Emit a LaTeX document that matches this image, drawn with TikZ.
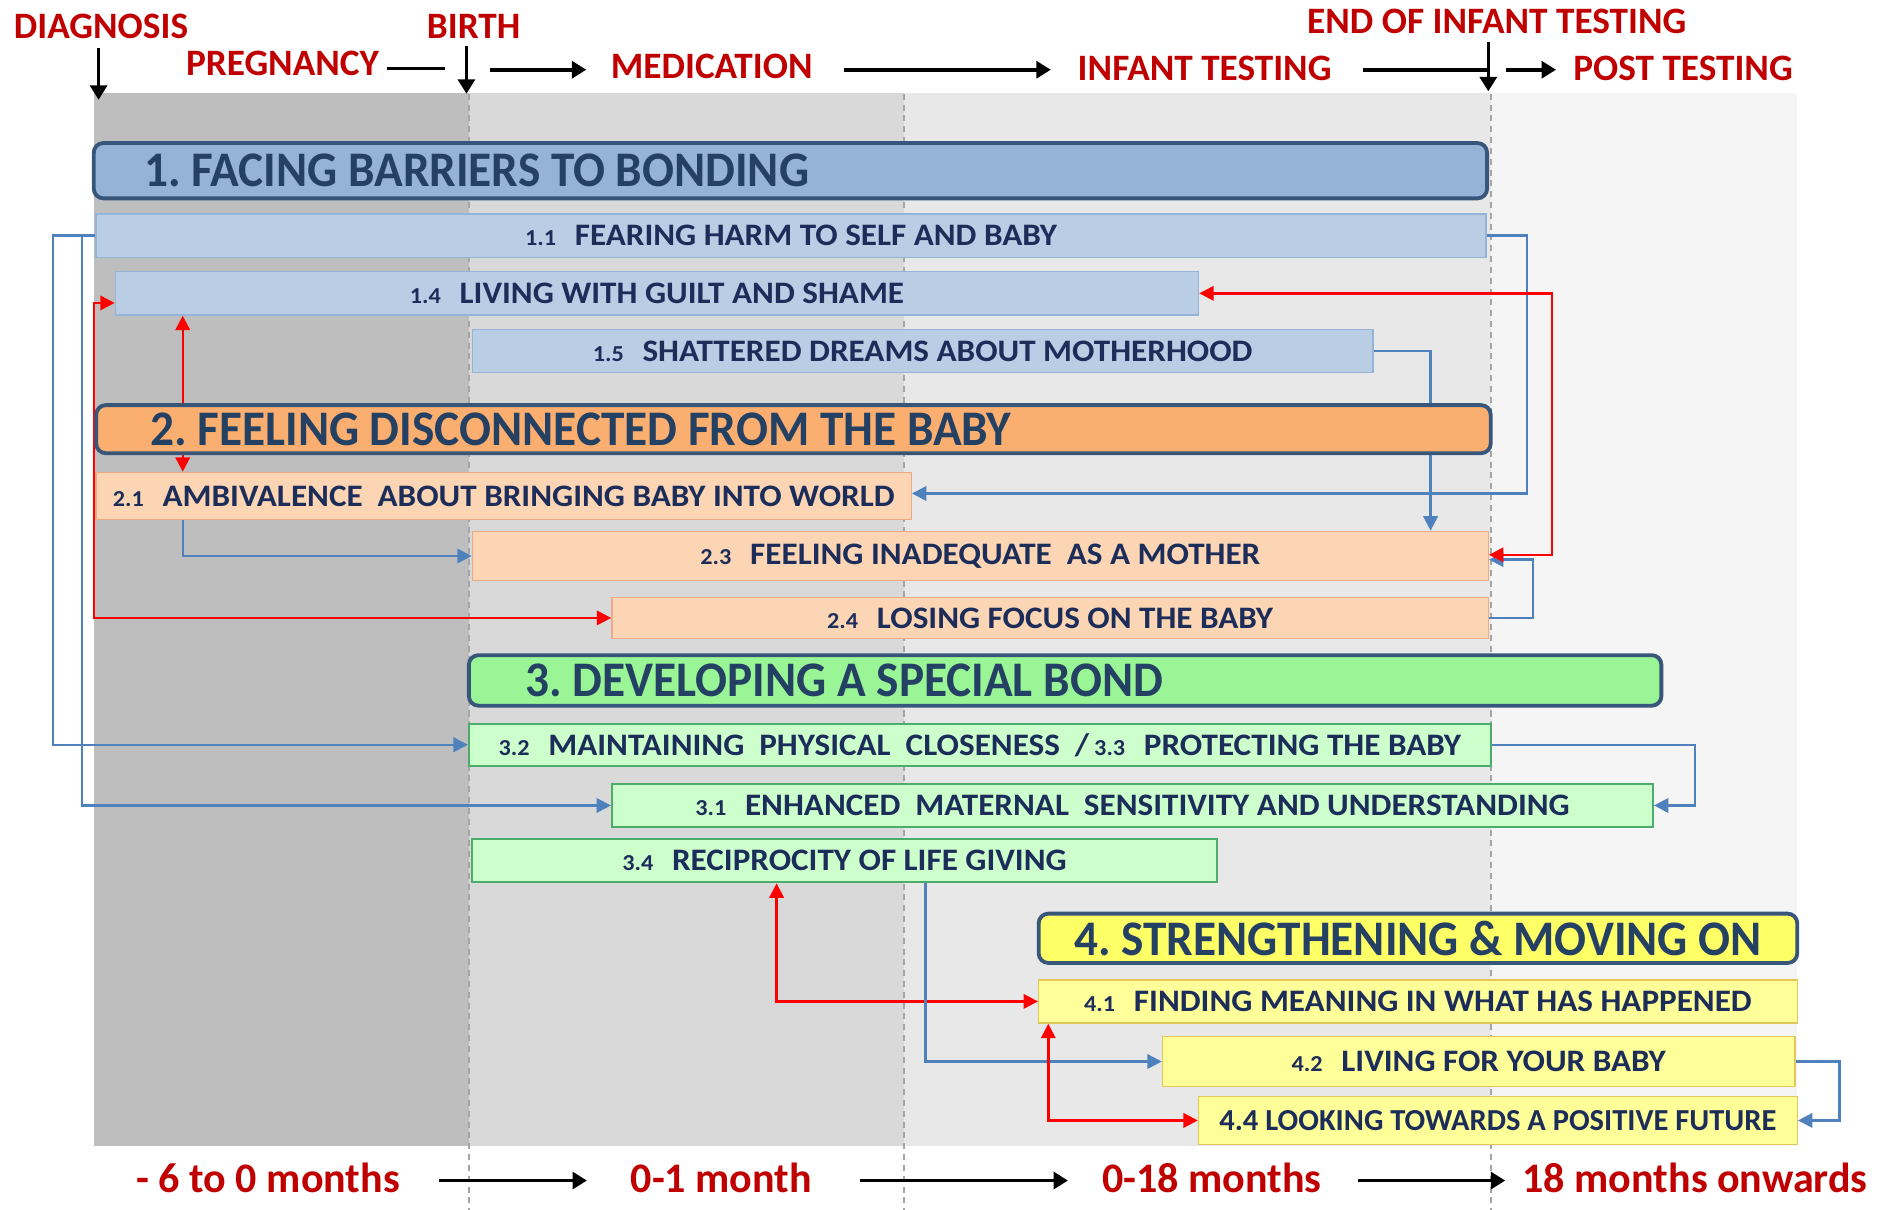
\documentclass[tikz,border=0pt]{standalone}
\usepackage{fontspec}
\setmainfont{Carlito}
\newfontfamily\hdfont{Carlito}[FakeStretch=0.95]
\newfontfamily\subfont{Carlito}[FakeStretch=1.06]
\usetikzlibrary{arrows.meta}
\frenchspacing
\definecolor{bandA}{RGB}{190,190,190}
\definecolor{bandB}{RGB}{217,217,217}
\definecolor{bandC}{RGB}{232,232,232}
\definecolor{bandD}{RGB}{245,245,245}
\definecolor{dashgray}{RGB}{165,165,165}
\definecolor{lblred}{RGB}{192,0,0}
\definecolor{hdtext}{RGB}{36,64,98}
\definecolor{subtext}{RGB}{28,45,90}
\definecolor{hdborder}{RGB}{56,86,122}
\definecolor{hOne}{RGB}{149,179,215}
\definecolor{sOne}{RGB}{185,205,229}
\definecolor{sOneB}{RGB}{149,179,215}
\definecolor{hTwo}{RGB}{250,175,112}
\definecolor{sTwo}{RGB}{252,213,181}
\definecolor{sTwoB}{RGB}{236,170,135}
\definecolor{hThree}{RGB}{153,245,150}
\definecolor{sThree}{RGB}{204,255,204}
\definecolor{sThreeB}{RGB}{75,172,107}
\definecolor{hFour}{RGB}{255,255,102}
\definecolor{sFour}{RGB}{255,255,153}
\definecolor{sFourB}{RGB}{226,200,90}
\definecolor{cblue}{RGB}{79,129,189}
\definecolor{cred}{RGB}{255,0,0}
\pgfdeclarelayer{bg}
\pgfdeclarelayer{conn}
\pgfsetlayers{bg,conn,main}
\newcommand\bx[7]{\node[#1, minimum width={(#5-#3)*0.5pt}, minimum height={(#6-#4)*0.5pt}] (#2) at ({(#3+#5)/2},{(#4+#6)/2}) {#7};}
\newcommand\hx[8]{\node[#1, text width={(#5-#3)*0.5pt-2*#8pt}, inner xsep=#8pt, minimum height={(#6-#4)*0.5pt}] (#2) at ({(#3+#5)/2},{(#4+#6)/2}) {\spaceskip=0pt\xspaceskip=0pt\relax #7};}
\newcommand\nm[1]{{\fontsize{9.5}{10}\selectfont #1}\hspace{0.6em}}
\begin{document}
\begin{tikzpicture}[x=0.5pt,y=-0.5pt,
  lbl/.style={inner sep=0pt, text=lblred, font=\fontsize{15.5}{16}\selectfont\bfseries},
  btm/.style={inner sep=0pt, text=lblred, font=\fontsize{17.5}{18}\selectfont\bfseries},
  tl/.style={line width=1.5pt, black},
  tla/.style={line width=1.5pt, black, -{Triangle[length=6pt,width=7pt]}},
  hdr/.style={draw=hdborder, line width=1.6pt, rounded corners=4pt, inner ysep=0pt, align=left, text=hdtext, font=\hdfont\fontsize{20.7}{22}\selectfont\bfseries},
  sub/.style={inner sep=0pt, line width=0.6pt, text=subtext, font=\subfont\fontsize{13}{14}\selectfont\bfseries},
  s1/.style={sub, fill=sOne, draw=sOneB},
  s2/.style={sub, fill=sTwo, draw=sTwoB},
  s3/.style={sub, fill=sThree, draw=sThreeB, line width=0.8pt},
  s4/.style={sub, fill=sFour, draw=sFourB},
  bl/.style={draw=cblue, line width=1pt, -{Triangle[length=6pt,width=6pt]}},
  rdd/.style={draw=cred, line width=1pt, {Triangle[length=6pt,width=6pt]}-{Triangle[length=6pt,width=6pt]}}
]
\useasboundingbox (0,0) rectangle (1568,1006.5);
% background bands
\begin{pgfonlayer}{bg}
\fill[white] (0,0) rectangle (1568,1006.5);
\fill[bandA] (78,77) rectangle (390,953);
\fill[bandB] (390,77) rectangle (752,953);
\fill[bandC] (752,77) rectangle (1240,953);
\fill[bandD] (1240,77) rectangle (1495,953);
\foreach \xx in {390,752,1240}
  \draw[dashgray, line width=0.8pt, dash pattern=on 2.5pt off 2pt] (\xx,78) -- (\xx,1006.5);
\end{pgfonlayer}

% timeline labels
\node[lbl] (diag) at (84,22) {DIAGNOSIS};
\node[lbl] (preg) at (235,53) {PREGNANCY};
\node[lbl] (birth) at (394,22) {BIRTH};
\node[lbl] (med) at (592,55) {MEDICATION};
\node[lbl] (inf) at (1002,57) {INFANT TESTING};
\node[lbl] (endinf) at (1245,18) {END OF INFANT TESTING};
\node[lbl] (post) at (1400,57) {POST TESTING};
\coordinate (diagtip) at (82,83);
\coordinate (birthtip) at (388,78);
\coordinate (endtip) at (1238,76);
\draw[tla] (diagtip |- 0,40) -- (diagtip);
\draw[tla] (birthtip |- 0,38) -- (birthtip);
\draw[tla] (endtip |- 0,35) -- (endtip);
\draw[tl] ([xshift=3pt]preg.east |- 0,57) -- (370,57);
\draw[tla] (408,58) -- ([xshift=-10pt]med.west |- 0,58);
\draw[tla] ([xshift=13pt]med.east |- 0,58) -- ([xshift=-11pt]inf.west |- 0,58);
\draw[tl] ([xshift=13pt]inf.east |- 0,58) -- (endtip |- 0,58);
\draw[tla] (1253,58) -- ([xshift=-7pt]post.west |- 0,58);

% bottom labels
\node[btm] (m1) at (223,980) {- 6 to 0 months};
\node[btm] (m2) at (600,980) {0-1 month};
\node[btm] (m3) at (1008,980) {0-18 months};
\node[btm] (m4) at (1410,980) {18 months onwards};
\draw[tla] (365,982) -- ([xshift=-18pt]m2.west |- 0,982);
\draw[tla] (715,982) -- ([xshift=-14pt]m3.west |- 0,982);
\draw[tla] (1130,982) -- ([xshift=-7pt]m4.west |- 0,982);

% theme 1
\hx{hdr, fill=hOne}{h1}{78}{119}{1237}{165}{1. FACING BARRIERS TO BONDING}{21}
\bx{s1}{b11}{80}{178}{1236}{214}{\nm{1.1}FEARING HARM TO SELF AND BABY}
\bx{s1}{b14}{96}{226}{997}{262}{\nm{1.4}LIVING WITH GUILT AND SHAME}
\bx{s1}{b15}{393}{274}{1142}{310}{\nm{1.5}SHATTERED DREAMS ABOUT MOTHERHOOD}
% theme 2
\hx{hdr, fill=hTwo}{h2}{80}{337}{1240}{377}{2. FEELING DISCONNECTED FROM THE BABY}{22.5}
\bx{s2}{b21}{80}{393}{758}{432}{\nm{2.1}AMBIVALENCE\ \ ABOUT BRINGING BABY INTO WORLD}
\bx{s2}{b23}{393}{442}{1238}{483}{\nm{2.3}FEELING INADEQUATE\ \ AS A MOTHER}
\bx{s2}{b24}{509}{497}{1238}{531}{\nm{2.4}LOSING FOCUS ON THE BABY}
% theme 3
\hx{hdr, fill=hThree}{h3}{390}{545}{1382}{587}{3. DEVELOPING A SPECIAL BOND}{23.5}
\bx{s3}{b32}{390}{602}{1240}{637}{\nm{3.2}MAINTAINING\ \ PHYSICAL\ \ CLOSENESS\ \ /\,\nm{3.3}PROTECTING THE BABY}
\bx{s3}{b31}{509}{652}{1375}{688}{\nm{3.1}ENHANCED\ \ MATERNAL\ \ SENSITIVITY AND UNDERSTANDING}
\bx{s3}{b34}{393}{698}{1012}{734}{\nm{3.4}RECIPROCITY OF LIFE GIVING}
% theme 4
\node[hdr, fill=hFour, align=center, inner xsep=0pt, minimum width={631*0.5pt}, minimum height={41*0.5pt}] (h4) at (1179.5,780.5) {4. STRENGTHENING \& MOVING ON};
\bx{s4}{b41}{864}{815}{1495}{851}{\nm{4.1}FINDING MEANING IN WHAT HAS HAPPENED}
\bx{s4}{b42}{967}{862}{1493}{904}{\nm{4.2}LIVING FOR YOUR BABY}
\bx{s4, font=\fontsize{12.7}{13}\selectfont\bfseries}{b44}{997}{912}{1495}{952}{4.4 LOOKING TOWARDS A POSITIVE FUTURE}

% connectors
\coordinate (xA) at (44,0);
\coordinate (xB) at (68,0);
\coordinate (xR1) at (78,0);
\coordinate (xC) at (152,0);
\coordinate (xD) at (1190,0);
\coordinate (xE) at (1270,0);
\coordinate (xF) at (1275,0);
\coordinate (xR3) at (1291,0);
\coordinate (xG) at (1410,0);
\coordinate (xR4) at (646,0);
\coordinate (xH) at (770,0);
\coordinate (xR5) at (872,0);
\coordinate (xI) at (1530,0);
\begin{pgfonlayer}{conn}
\draw[bl] (b11.west) -| (b32.west -| xA) -- (b32.west);
\draw[bl] (b11.west) -| (b31.west -| xB) -- (b31.west);
\draw[bl] (b11.east) -| ([yshift=1pt]b21.east -| xE) -- ([yshift=1pt]b21.east);
\draw[bl] (b15.east) -| (b23.north -| xD);
\draw[bl] (b21.south -| xC) |- (b23.west);
\draw[bl] (b24.east) -| ([yshift=-1.5pt]b23.east -| xF) -- ([yshift=-1.5pt]b23.east);
\draw[rdd] ([yshift=-4pt]b14.west) -| (b24.west -| xR1) -- (b24.west);
\draw[rdd] (b14.south -| xC) -- (b21.north -| xC);
\draw[rdd] (b14.east) -| ([yshift=0.5pt]b23.east -| xR3) -- ([yshift=0.5pt]b23.east);
\draw[bl] (b32.east) -| (b31.east -| xG) -- (b31.east);
\draw[rdd] (b34.south -| xR4) |- (b41.west);
\draw[bl] (b34.south -| xH) |- (b42.west);
\draw[rdd] (b41.south -| xR5) |- (b44.west);
\draw[bl] (b42.east) -| (b44.east -| xI) -- (b44.east);
\end{pgfonlayer}
\end{tikzpicture}
\end{document}
